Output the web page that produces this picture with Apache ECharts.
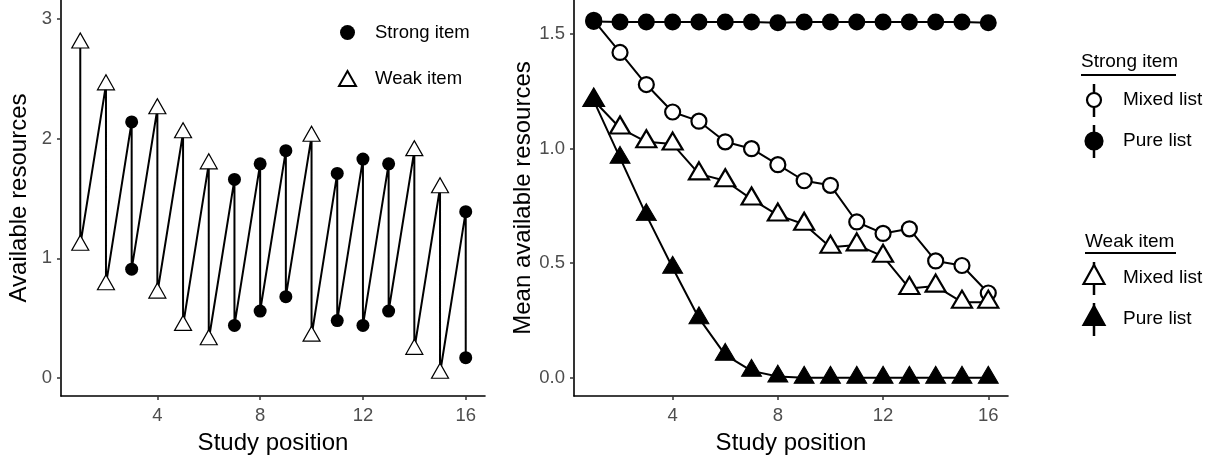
<!DOCTYPE html>
<html>
<head>
<meta charset="utf-8">
<script src="https://cdn.jsdelivr.net/npm/echarts@6/dist/echarts.min.js"></script>
<style>
html, body { margin: 0; background: #fff; }
#chart { width: 1212px; height: 461px; }
</style>
</head>
<body>
<div id="chart"></div>
<script>
// ---- data: left panel (single list, resources before/after each study event)
var positions = [1, 2, 3, 4, 5, 6, 7, 8, 9, 10, 11, 12, 13, 14, 15, 16];
var itemType  = ['W', 'W', 'S', 'W', 'W', 'W', 'S', 'S', 'S', 'W', 'S', 'S', 'S', 'W', 'W', 'S'];
var highRes   = [2.80, 2.45, 2.14, 2.25, 2.05, 1.79, 1.66, 1.79, 1.90, 2.02, 1.71, 1.83, 1.79, 1.90, 1.59, 1.39];
var lowRes    = [1.11, 0.78, 0.91, 0.71, 0.44, 0.32, 0.44, 0.56, 0.68, 0.35, 0.48, 0.44, 0.56, 0.24, 0.04, 0.17];

// ---- data: right panel (mean available resources)
var strongMixed = [1.56, 1.42, 1.28, 1.16, 1.12, 1.03, 1.00, 0.93, 0.86, 0.84, 0.68, 0.63, 0.65, 0.51, 0.49, 0.37];
var strongPure  = [1.555, 1.553, 1.553, 1.553, 1.553, 1.553, 1.553, 1.550, 1.553, 1.553, 1.553, 1.553, 1.553, 1.553, 1.553, 1.550];
var weakMixed   = [1.21, 1.09, 1.03, 1.02, 0.89, 0.86, 0.78, 0.71, 0.67, 0.57, 0.58, 0.53, 0.39, 0.40, 0.33, 0.33];
var weakPure    = [1.21, 0.96, 0.71, 0.48, 0.26, 0.10, 0.03, 0.005, 0, 0, 0, 0, 0, 0, 0, 0];

var xTicks = [4, 8, 12, 16];
var yTicksLeft = [0, 1, 2, 3];
var yTicksRight = [0, 0.5, 1.0, 1.5];

var FONT = 'Liberation Sans, Arial, sans-serif';

// sawtooth path: high -> low at each position, then up to the next high
var sawtooth = [];
var strongPts = [], weakPts = [];
positions.forEach(function (p, i) {
    sawtooth.push([p, highRes[i]], [p, lowRes[i]]);
    var target = itemType[i] === 'S' ? strongPts : weakPts;
    target.push([p, highRes[i]], [p, lowRes[i]]);
});

function pairs(vals) {
    return positions.map(function (p, i) { return [p, vals[i]]; });
}

function xAxisFor(idx, minX, maxX) {
    return {
        type: 'value', gridIndex: idx, min: minX, max: maxX,
        name: 'Study position', nameLocation: 'middle', nameGap: 35,
        nameTextStyle: { fontFamily: FONT, fontSize: 24, color: '#000' },
        splitLine: { show: false },
        axisLine: { show: true, onZero: false, lineStyle: { color: '#000', width: 1.6 } },
        axisTick: { show: true, length: 4, customValues: xTicks, lineStyle: { color: '#333', width: 1.5 } },
        axisLabel: { customValues: xTicks, margin: 10, fontFamily: FONT, fontSize: 18.5, color: '#4d4d4d' }
    };
}

function yAxisFor(idx, minY, maxY, ticks, title, gap, fmt) {
    return {
        type: 'value', gridIndex: idx, min: minY, max: maxY,
        name: title, nameLocation: 'middle', nameGap: gap, nameRotate: 90,
        nameTextStyle: { fontFamily: FONT, fontSize: 24, color: '#000' },
        splitLine: { show: false },
        axisLine: { show: true, onZero: false, lineStyle: { color: '#000', width: 1.6 } },
        axisTick: { show: true, length: 4, customValues: ticks, lineStyle: { color: '#333', width: 1.5 } },
        axisLabel: { customValues: ticks, margin: 9, fontFamily: FONT, fontSize: 18.5, color: '#4d4d4d', formatter: fmt }
    };
}

// right-hand legend keys: vertical line through the marker
function key(x, y, shape, filled) {
    var els = [{
        type: 'line', shape: { x1: x, y1: y - 16, x2: x, y2: y + 17 },
        style: { stroke: '#000', lineWidth: 2.5 }
    }];
    if (shape === 'circle') {
        els.push({
            type: 'circle', shape: { cx: x, cy: y, r: filled ? 8.5 : 7 },
            style: { fill: filled ? '#000' : '#fff', stroke: '#000', lineWidth: 2.2 }
        });
    } else {
        els.push({
            type: 'polygon', shape: { points: [[x, y - 13], [x - 10.5, y + 6], [x + 10.5, y + 6]] },
            style: { fill: filled ? '#000' : '#fff', stroke: '#000', lineWidth: 2.2 }
        });
    }
    return els;
}

function label(x, y, txt) {
    return { type: 'text', x: x, y: y, style: { text: txt, fontFamily: FONT, fontSize: 19, fill: '#000', verticalAlign: 'middle' } };
}

var graphics = [].concat(
    label(1081, 62, 'Strong item'),
    { type: 'line', shape: { x1: 1081, y1: 75, x2: 1176, y2: 75 }, style: { stroke: '#000', lineWidth: 2 } },
    key(1094, 100, 'circle', false), label(1123, 100, 'Mixed list'),
    key(1094, 141, 'circle', true), label(1123, 141, 'Pure list'),
    label(1085, 242, 'Weak item'),
    { type: 'line', shape: { x1: 1085, y1: 253, x2: 1176, y2: 253 }, style: { stroke: '#000', lineWidth: 2 } },
    key(1094, 278, 'triangle', false), label(1123, 278, 'Mixed list'),
    key(1094, 319, 'triangle', true), label(1123, 319, 'Pure list')
);

var chart = echarts.init(document.getElementById('chart'));
var option = {
    backgroundColor: '#fff',
    animation: false,
    grid: [
        { left: 61, top: 0, width: 424, height: 396 },
        { left: 574, top: 0, width: 434, height: 396 }
    ],
    legend: {
        left: 333, top: 18, orient: 'vertical', itemGap: 27,
        itemWidth: 17, itemHeight: 15,
        textStyle: { fontFamily: FONT, fontSize: 18.5, color: '#000', padding: [0, 0, 0, 14] },
        data: [
            { name: 'Strong item', icon: 'circle' },
            { name: 'Weak item', icon: 'triangle' }
        ]
    },
    xAxis: [xAxisFor(0, 0.25, 16.75), xAxisFor(1, 0.25, 16.75)],
    yAxis: [
        yAxisFor(0, -0.15, 3.159, yTicksLeft, 'Available resources', 30, function (v) { return String(v); }),
        yAxisFor(1, -0.0797, 1.649, yTicksRight, 'Mean available resources', 38, function (v) { return v.toFixed(1); })
    ],
    graphic: graphics,
    series: [
        {
            type: 'line', xAxisIndex: 0, yAxisIndex: 0, data: sawtooth,
            showSymbol: false, symbol: 'none', z: 2,
            lineStyle: { color: '#000', width: 2 }
        },
        {
            name: 'Strong item', type: 'scatter', xAxisIndex: 0, yAxisIndex: 0, data: strongPts,
            symbol: 'circle', symbolSize: 13, z: 3,
            itemStyle: { color: '#000', opacity: 1 }
        },
        {
            name: 'Weak item', type: 'scatter', xAxisIndex: 0, yAxisIndex: 0, data: weakPts,
            symbol: 'triangle', symbolSize: [17, 15], symbolOffset: [0, -2.5], z: 3,
            itemStyle: { color: '#fff', borderColor: '#000', borderWidth: 1.2, opacity: 1 }
        },
        {
            name: 'Strong mixed', type: 'line', xAxisIndex: 1, yAxisIndex: 1, data: pairs(strongMixed),
            symbol: 'circle', symbolSize: 15, showAllSymbol: true,
            lineStyle: { color: '#000', width: 2 },
            itemStyle: { color: '#fff', borderColor: '#000', borderWidth: 2.2 }
        },
        {
            name: 'Weak mixed', type: 'line', xAxisIndex: 1, yAxisIndex: 1, data: pairs(weakMixed),
            symbol: 'triangle', symbolSize: [20, 17], symbolOffset: [0, -3], showAllSymbol: true,
            lineStyle: { color: '#000', width: 2 },
            itemStyle: { color: '#fff', borderColor: '#000', borderWidth: 2.2 }
        },
        {
            name: 'Weak pure', type: 'line', xAxisIndex: 1, yAxisIndex: 1, data: pairs(weakPure),
            symbol: 'triangle', symbolSize: [20, 17], symbolOffset: [0, -3], showAllSymbol: true,
            lineStyle: { color: '#000', width: 2 },
            itemStyle: { color: '#000', borderColor: '#000', borderWidth: 1 }
        },
        {
            name: 'Strong pure', type: 'line', xAxisIndex: 1, yAxisIndex: 1, data: pairs(strongPure),
            symbol: 'circle', symbolSize: 17, showAllSymbol: true,
            lineStyle: { color: '#000', width: 2 },
            itemStyle: { color: '#000' }
        }
    ]
};
chart.setOption(option);
</script>
</body>
</html>
